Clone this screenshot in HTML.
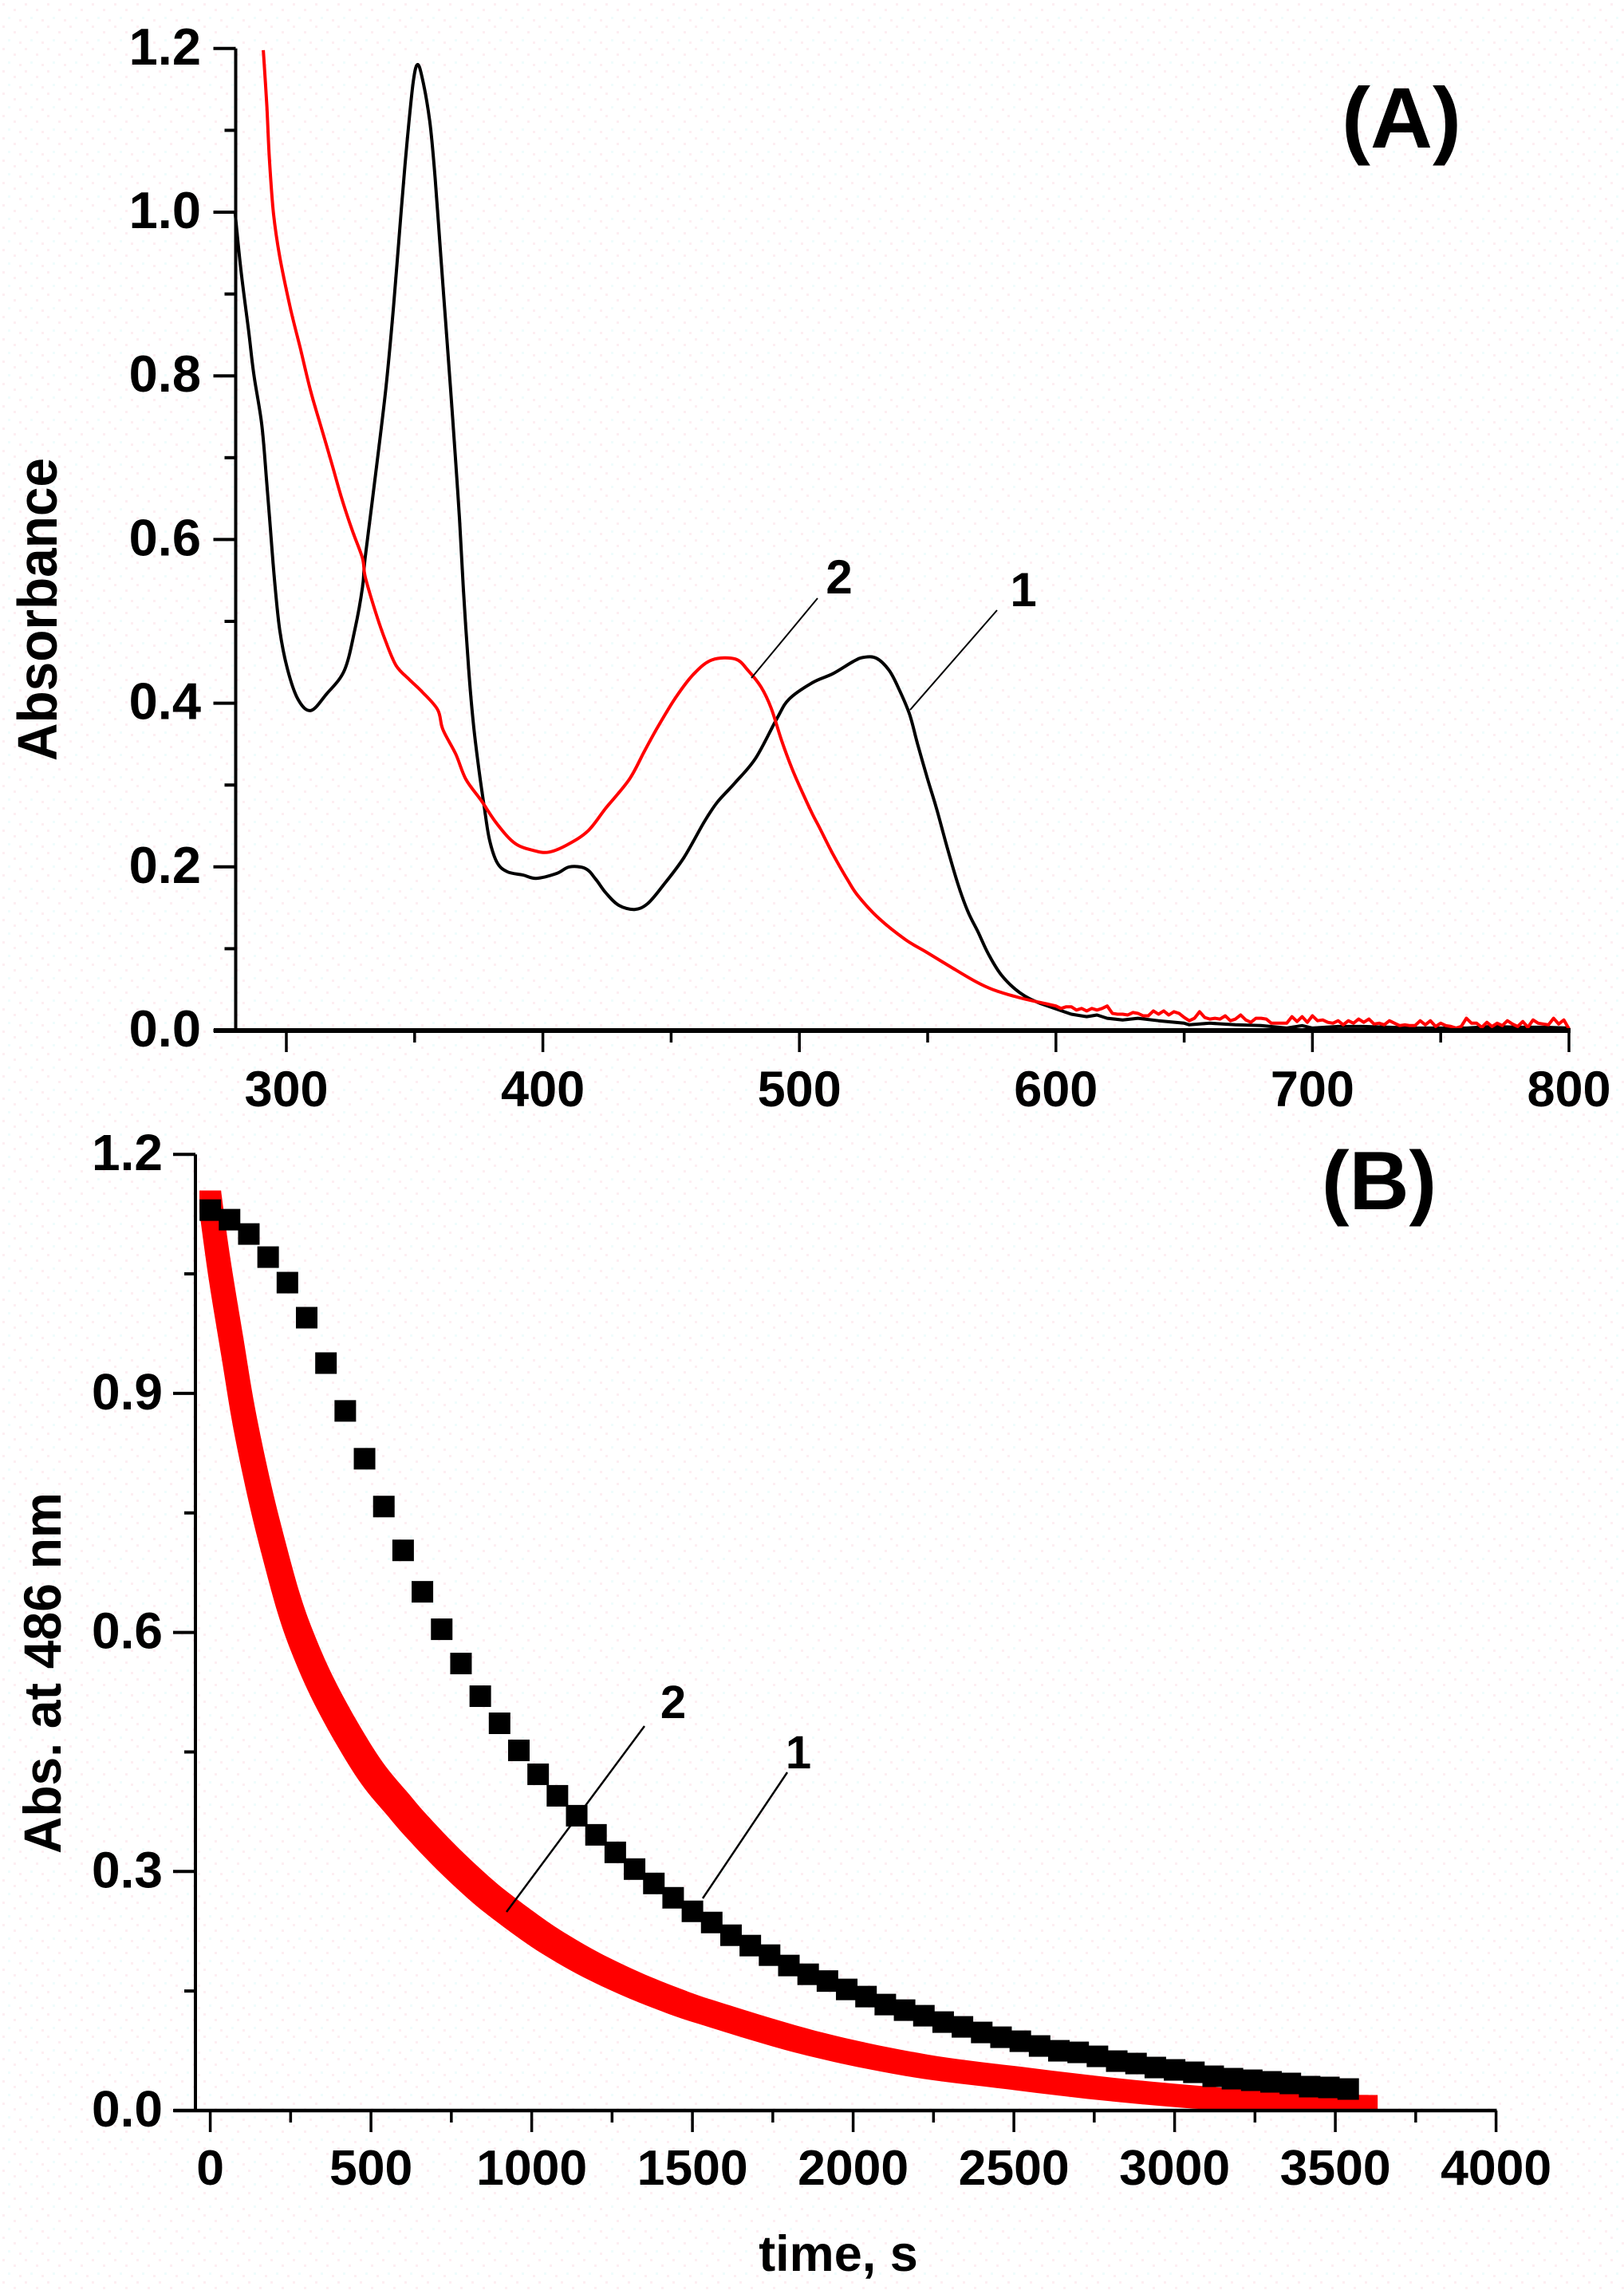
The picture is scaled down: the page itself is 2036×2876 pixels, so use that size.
<!DOCTYPE html>
<html lang="en">
<head>
<meta charset="utf-8">
<title>Absorbance spectra and kinetics</title>
<style>
html,body{margin:0;padding:0;background:#fff;}
svg{display:block;}
text{font-family:"Liberation Sans",Arial,sans-serif;font-weight:bold;fill:#000;}
</style>
</head>
<body>
<svg id="figure" xmlns="http://www.w3.org/2000/svg" width="2036" height="2876" viewBox="0 0 2036 2876">
  <defs>
    <pattern id="paper" width="28" height="28" patternUnits="userSpaceOnUse">
      <rect x="3" y="4" width="3" height="3" fill="#fdeef2"/>
      <rect x="17" y="11" width="3" height="3" fill="#fdeef2"/>
      <rect x="10" y="21" width="3" height="3" fill="#f0fcfc"/>
      <rect x="24" y="24" width="3" height="3" fill="#fdeef2"/>
    </pattern>
    <clipPath id="plot-b-clip"><rect x="200" y="1400" width="1700" height="1245"/></clipPath>
  </defs>
  <rect width="2036" height="2876" fill="#fff"/>
  <rect width="2036" height="2876" fill="url(#paper)"/>

  <g id="panel-a"></g>
  <g id="panel-b"></g>

  <text transform="translate(71 954) rotate(-90) scale(1 1.06)" font-size="66" textLength="380" lengthAdjust="spacingAndGlyphs">Absorbance</text>
  <text x="1757" y="185" font-size="108" text-anchor="middle">(A)</text>
  <text x="1052" y="744" font-size="60" text-anchor="middle">2</text>
  <text x="1283" y="760" font-size="60" text-anchor="middle">1</text>

  <text transform="translate(76 2324) rotate(-90)" font-size="66" textLength="453" lengthAdjust="spacingAndGlyphs">Abs. at 486 nm</text>
  <text x="1051" y="2847" font-size="63" text-anchor="middle">time, s</text>
  <text x="1729" y="1516" font-size="104" text-anchor="middle">(B)</text>
  <text x="844" y="2154" font-size="58" text-anchor="middle">2</text>
  <text x="1001" y="2217" font-size="58" text-anchor="middle">1</text>
</svg>

<script>
// ---------- Panel A data ----------
const spectrumYMajor = [0, 0.2, 0.4, 0.6, 0.8, 1.0, 1.2];
const spectrumYLabels = ['0.0', '0.2', '0.4', '0.6', '0.8', '1.0', '1.2'];
const spectrumYMinor = [0.1, 0.3, 0.5, 0.7, 0.9, 1.1];
const spectrumXMajor = [300, 400, 500, 600, 700, 800];
const spectrumXLabels = ['300', '400', '500', '600', '700', '800'];
const spectrumXMinor = [350, 450, 550, 650, 750];

const curve1Nm = [280,282.3,285.3,287.3,290.4,292.3,293.8,295.4,297.4,300.4,304.5,309.5,315.6,322.6,326.7,329.7,330.7,334.8,338.8,341.8,344.8,346.9,349.3,351,352.9,355.9,358,360,362,364,366,367.5,369,371.1,373,375.2,377.2,379.2,382.2,386.2,392.3,397.4,405.4,410.4,416.6,420.6,424.6,429.6,435.7,440.8,446.8,454.9,462.9,468,475,483,491.2,496,505,513,521,525,530,535,539,543,546,550,553.4,557.5,561.6,565.6,569.7,573.6,578.7,586,594,606,612,616,620,626,632,640,650,652,660,670,680,690,696,700,710,720,730,740,750,760,770,780,790,800];
const curve1Abs = [1.0,0.929,0.855,0.802,0.741,0.672,0.612,0.55,0.49,0.442,0.405,0.391,0.411,0.44,0.49,0.542,0.577,0.68,0.785,0.885,1.003,1.08,1.155,1.18,1.165,1.111,1.042,0.955,0.87,0.785,0.695,0.625,0.54,0.44,0.372,0.316,0.272,0.233,0.205,0.194,0.19,0.186,0.192,0.2,0.198,0.185,0.168,0.153,0.148,0.155,0.177,0.211,0.255,0.279,0.303,0.333,0.381,0.405,0.425,0.436,0.451,0.456,0.455,0.44,0.416,0.386,0.351,0.307,0.272,0.225,0.181,0.146,0.12,0.094,0.068,0.046,0.033,0.02,0.017,0.019,0.015,0.013,0.015,0.012,0.009,0.007,0.009,0.007,0.006,0.003,0.006,0.003,0.005,0.005,0.004,0.003,0.003,0.003,0.005,0.004,0.004,0.003];

const curve2Nm = [291,292.4,293.4,295,297.4,301.4,305.5,309.5,313.6,317.6,321.6,325.7,329.7,330.7,334.7,338.8,342.8,347.9,352.9,359,361,366,370,376,382,389,396.4,402.4,409.5,417.6,424.6,433.7,439.7,445,451.8,458.9,466,475,480,485,489,493,497,501.3,505,508,513,519,523,531,541.4,549.4,559.4,568.6,575.5,586,595.7,
  600,602,604,606,608,610,612,614,616,618,620,622,624,626,628,630,632,634,636,638,640,642,644,646,648,650,652,654,656,658,660,662,664,666,668,670,672,674,676,678,680,682,684,686,688,690,692,694,696,698,700,702,704,706,708,710,712,714,716,718,720,722,724,726,728,730,732,734,736,738,740,742,744,746,748,750,752,754,756,758,760,762,764,766,768,770,772,774,776,778,780,782,784,786,788,790,792,794,796,798,800];
const curve2Abs = [1.198,1.129,1.064,0.998,0.946,0.885,0.833,0.781,0.737,0.694,0.65,0.611,0.577,0.555,0.512,0.475,0.446,0.429,0.414,0.392,0.368,0.338,0.307,0.281,0.253,0.229,0.22,0.218,0.227,0.244,0.272,0.307,0.342,0.372,0.407,0.436,0.453,0.454,0.44,0.42,0.394,0.355,0.321,0.29,0.265,0.247,0.216,0.183,0.164,0.137,0.111,0.096,0.077,0.06,0.05,0.04,0.033,
  0.030,0.027,0.029,0.029,0.025,0.027,0.024,0.027,0.025,0.027,0.030,0.021,0.020,0.020,0.019,0.022,0.021,0.018,0.018,0.024,0.020,0.024,0.019,0.023,0.021,0.016,0.012,0.015,0.023,0.016,0.014,0.015,0.014,0.018,0.012,0.014,0.019,0.013,0.010,0.015,0.015,0.014,0.009,0.009,0.009,0.009,0.017,0.011,0.017,0.010,0.018,0.012,0.013,0.010,0.009,0.012,0.007,0.012,0.009,0.014,0.010,0.014,0.008,0.009,0.007,0.012,0.009,0.006,0.007,0.006,0.006,0.012,0.007,0.012,0.005,0.009,0.006,0.005,0.003,0.005,0.015,0.009,0.009,0.004,0.010,0.005,0.009,0.006,0.012,0.008,0.005,0.011,0.004,0.013,0.009,0.008,0.007,0.015,0.008,0.013,0.002];

// ---------- Panel B data ----------
const kineticsYMajor = [0, 0.3, 0.6, 0.9, 1.2];
const kineticsYLabels = ['0.0', '0.3', '0.6', '0.9', '1.2'];
const kineticsYMinor = [0.15, 0.45, 0.75, 1.05];
const kineticsXMajor = [0, 500, 1000, 1500, 2000, 2500, 3000, 3500, 4000];
const kineticsXLabels = ['0', '500', '1000', '1500', '2000', '2500', '3000', '3500', '4000'];
const kineticsXMinor = [250, 750, 1250, 1750, 2250, 2750, 3250, 3750];

const kinetic1Times = [0,60,120,180,240,300,360,420,480,540,600,660,720,780,840,900,960,1020,1080,1140,1200,1260,1320,1380,1440,1500,1560,1620,1680,1740,1800,1860,1920,1980,2040,2100,2160,2220,2280,2340,2400,2460,2520,2580,2640,2700,2760,2820,2880,2940,3000,3060,3120,3180,3240,3300,3360,3420,3480,3540];
const kinetic1Values = [1.13,1.118,1.1,1.071,1.039,0.995,0.938,0.878,0.818,0.758,0.703,0.651,0.604,0.561,0.52,0.486,0.452,0.422,0.395,0.37,0.346,0.324,0.303,0.285,0.267,0.25,0.236,0.22,0.207,0.195,0.182,0.171,0.1625,0.152,0.143,0.133,0.126,0.119,0.111,0.105,0.098,0.092,0.087,0.081,0.075,0.073,0.068,0.062,0.059,0.054,0.051,0.048,0.043,0.04,0.038,0.036,0.034,0.03,0.029,0.027];

const kinetic2Times = [0,29,68,106,156,206,247,288,346,421,504,586,636,718,801,884,1008,1091,1173,1256,1339,1422,1546,1872,2195,2517,2838,3160,3482,3598];
const kinetic2Values = [1.141,1.056,0.96,0.868,0.772,0.692,0.633,0.5865,0.533,0.4765,0.423,0.383,0.3595,0.3243,0.292,0.263,0.2258,0.2042,0.1853,0.1687,0.1538,0.1405,0.1231,0.0843,0.057,0.04,0.025,0.014,0.007,0.006];

// ---------- Axis functions ----------
function xA(nm) { return 359 + (nm - 300) * 3.216; }
function yA(v) { return 1292 - v * 1026; }
function xB(t) { return 263.6 + t * 0.403; }
function yB(v) { return 2646 - v * 999; }

const NS = 'http://www.w3.org/2000/svg';
function make(parent, tag, attrs) {
  const el = document.createElementNS(NS, tag);
  for (const k in attrs) el.setAttribute(k, attrs[k]);
  parent.appendChild(el);
  return el;
}
// Path commands through pixel points; curved while x < linearFromX, straight after.
function pathThrough(pts, linearFromX) {
  let d = '';
  for (let i = 0; i < pts.length - 1; i++) {
    const p1 = pts[i], p2 = pts[i + 1];
    if (p2[0] >= linearFromX) {
      d += ' L' + p2[0].toFixed(1) + ' ' + p2[1].toFixed(1);
    } else {
      const p0 = pts[i - 1] || p1, p3 = pts[i + 2] || p2;
      const c1x = p1[0] + (p2[0] - p0[0]) / 6, c1y = p1[1] + (p2[1] - p0[1]) / 6;
      const c2x = p2[0] - (p3[0] - p1[0]) / 6, c2y = p2[1] - (p3[1] - p1[1]) / 6;
      d += ' C' + c1x.toFixed(1) + ' ' + c1y.toFixed(1) + ' ' + c2x.toFixed(1) + ' ' + c2y.toFixed(1) + ' ' + p2[0].toFixed(1) + ' ' + p2[1].toFixed(1);
    }
  }
  return d;
}
function seriesPath(xs, ys, fx, fy, linearFromX) {
  const pts = xs.map(function (x, i) { return [fx(x), fy(ys[i])]; });
  return 'M' + pts[0][0].toFixed(1) + ' ' + pts[0][1].toFixed(1) + pathThrough(pts, linearFromX);
}

function drawAxes(g, cfg) {
  let el;
  el = make(g, 'line', { x1: cfg.axisX, x2: cfg.axisX, y1: cfg.fy(cfg.yTop), y2: cfg.axisY, stroke: '#000', 'stroke-width': 4 });
  
  

  el = make(g, 'line', { x1: cfg.axisLeft, x2: cfg.axisRight, y1: cfg.axisY, y2: cfg.axisY, stroke: '#000', 'stroke-width': cfg.xAxisWidth });
  
  

  cfg.yMajor.forEach(function (v, i) {
    const tick = make(g, 'line', { x1: cfg.axisX - 28, x2: cfg.axisX, y1: cfg.fy(v), y2: cfg.fy(v), stroke: '#000', 'stroke-width': 4 });
    
    
    const label = make(g, 'text', { x: cfg.yLabelX, y: cfg.fy(v) + 20, 'font-size': cfg.yFont, 'text-anchor': 'end' });
    
    
    label.textContent = cfg.yLabels[i];
  });
  cfg.yMinor.forEach(function (v) {
    const tick = make(g, 'line', { x1: cfg.axisX - 14, x2: cfg.axisX, y1: cfg.fy(v), y2: cfg.fy(v), stroke: '#000', 'stroke-width': 4 });
    
    
  });
  cfg.xMajor.forEach(function (v, i) {
    const tick = make(g, 'line', { x1: cfg.fx(v), x2: cfg.fx(v), y1: cfg.axisY, y2: cfg.axisY + 27, stroke: '#000', 'stroke-width': 3.5 });
    
    
    const label = make(g, 'text', { x: cfg.fx(v), y: cfg.xLabelY, 'font-size': cfg.xFont, 'text-anchor': 'middle' });
    
    
    label.textContent = cfg.xLabels[i];
  });
  cfg.xMinor.forEach(function (v) {
    const tick = make(g, 'line', { x1: cfg.fx(v), x2: cfg.fx(v), y1: cfg.axisY, y2: cfg.axisY + 15, stroke: '#000', 'stroke-width': 3.5 });
    
    
  });
}

// ---------- Panel A ----------
const panelA = document.getElementById('panel-a');
const noiseStartX = xA(600);
const curve1 = make(panelA, 'path', { d: seriesPath(curve1Nm, curve1Abs, xA, yA, noiseStartX), fill: 'none', stroke: '#000', 'stroke-width': 4, 'stroke-linejoin': 'round' });


const curve2 = make(panelA, 'path', { d: seriesPath(curve2Nm, curve2Abs, xA, yA, noiseStartX), fill: 'none', stroke: '#f00', 'stroke-width': 4, 'stroke-linejoin': 'round' });



drawAxes(panelA, {
  fx: xA, fy: yA, axisX: 295.5, axisY: 1292, axisLeft: 268, axisRight: 1969, yTop: 1.2, xAxisWidth: 6,
  yMajor: spectrumYMajor, yLabels: spectrumYLabels, yMinor: spectrumYMinor,
  xMajor: spectrumXMajor, xLabels: spectrumXLabels, xMinor: spectrumXMinor,
  yLabelX: 252, xLabelY: 1387, yFont: 65, xFont: 63
});

const leaderA1 = make(panelA, 'line', { x1: 1141, y1: 890, x2: 1250, y2: 765, stroke: '#000', 'stroke-width': 2 });


const leaderA2 = make(panelA, 'line', { x1: 942, y1: 850, x2: 1025, y2: 750, stroke: '#000', 'stroke-width': 2 });



// ---------- Panel B ----------
const panelB = document.getElementById('panel-b');
const half = 13.5;
const redGroup = make(panelB, 'g', { 'clip-path': 'url(#plot-b-clip)' });



// Swept outline of the dense red square markers: upper edge forward, lower edge back.
const upperPts = kinetic2Times.map(function (t, i) { return [xB(t) + half, yB(kinetic2Values[i]) - half]; });
const lowerPts = kinetic2Times.map(function (t, i) { return [xB(t) - half, yB(kinetic2Values[i]) + half]; }).reverse();
const lastUpper = upperPts[upperPts.length - 1];
const bandPath = 'M' + (xB(kinetic2Times[0]) - half).toFixed(1) + ' ' + (yB(kinetic2Values[0]) - half).toFixed(1) +
  ' L' + upperPts[0][0].toFixed(1) + ' ' + upperPts[0][1].toFixed(1) +
  pathThrough(upperPts, Infinity) +
  ' L' + lastUpper[0].toFixed(1) + ' ' + lowerPts[0][1].toFixed(1) +
  ' L' + lowerPts[0][0].toFixed(1) + ' ' + lowerPts[0][1].toFixed(1) +
  pathThrough(lowerPts, Infinity) + ' Z';
const band = make(redGroup, 'path', { d: bandPath, fill: '#f00' });



kinetic2Times.forEach(function (t, i) {
  const sq = make(redGroup, 'rect', { x: xB(t) - half, y: yB(kinetic2Values[i]) - half, width: half * 2, height: half * 2, fill: '#f00' });
  
  
});

drawAxes(panelB, {
  fx: xB, fy: yB, axisX: 245, axisY: 2646, axisLeft: 217.5, axisRight: 1876.5, yTop: 1.2, xAxisWidth: 4.5,
  yMajor: kineticsYMajor, yLabels: kineticsYLabels, yMinor: kineticsYMinor,
  xMajor: kineticsXMajor, xLabels: kineticsXLabels, xMinor: kineticsXMinor,
  yLabelX: 204, xLabelY: 2739, yFont: 64, xFont: 62.5
});

const blackGroup = make(panelB, 'g', {});


kinetic1Times.forEach(function (t, i) {
  const sq = make(blackGroup, 'rect', { x: xB(t) - half, y: yB(kinetic1Values[i]) - half, width: half * 2, height: half * 2, fill: '#000' });
  
  
});

const leaderB2 = make(panelB, 'line', { x1: 635, y1: 2397, x2: 808, y2: 2164, stroke: '#000', 'stroke-width': 2.5 });


const leaderB1 = make(panelB, 'line', { x1: 881, y1: 2380, x2: 987, y2: 2222, stroke: '#000', 'stroke-width': 2.5 });


</script>
</body>
</html>
